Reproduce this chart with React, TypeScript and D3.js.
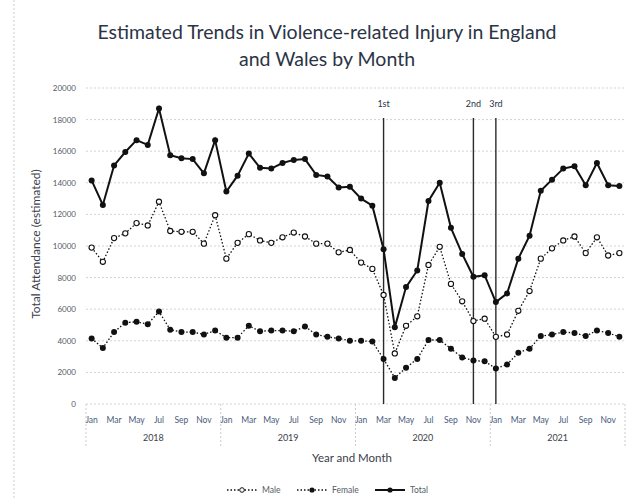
import { useEffect, useRef } from "react";
import * as d3 from "d3";

const years = ["2018", "2019", "2020", "2021"];
const monthNames = ["Jan", "Feb", "Mar", "Apr", "May", "Jun", "Jul", "Aug", "Sep", "Oct", "Nov", "Dec"];
const yTicks = [0, 2000, 4000, 6000, 8000, 10000, 12000, 14000, 16000, 18000, 20000];

const total = [
  14150, 12600, 15100, 15950, 16700, 16400, 18700, 15750, 15550, 15500, 14600, 16700,
  13450, 14450, 15850, 14950, 14900, 15250, 15450, 15500, 14500, 14400, 13700, 13750,
  13000, 12550, 9800, 4850, 7400, 8450, 12850, 14000, 11150, 9500, 8050, 8150,
  6450, 7000, 9200, 10650, 13500, 14200, 14900, 15050, 13850, 15250, 13850, 13800,
];
const male = [
  9900, 9000, 10500, 10800, 11450, 11300, 12800, 10950, 10900, 10900, 10150, 11950,
  9200, 10200, 10750, 10350, 10200, 10550, 10850, 10600, 10150, 10150, 9600, 9750,
  8950, 8550, 6900, 3200, 4950, 5550, 8800, 9950, 7600, 6500, 5250, 5400,
  4250, 4400, 5900, 7150, 9200, 9850, 10350, 10600, 9550, 10550, 9400, 9550,
];
const female = [
  4150, 3550, 4550, 5150, 5200, 5050, 5850, 4700, 4550, 4550, 4400, 4650,
  4200, 4200, 4950, 4600, 4650, 4650, 4600, 4900, 4400, 4250, 4150, 4000,
  4000, 3950, 2850, 1650, 2300, 2850, 4050, 4050, 3500, 2950, 2750, 2700,
  2250, 2500, 3250, 3500, 4300, 4400, 4550, 4500, 4300, 4650, 4500, 4250,
];
const lockdowns = [
  { label: "1st", month: "Mar 2020" },
  { label: "2nd", month: "Nov 2020" },
  { label: "3rd", month: "Jan 2021" },
];

const months = years.flatMap(y => monthNames.map(m => `${m} ${y}`));

const W = 637;
const H = 499;
const font = "Lato, 'Open Sans', sans-serif";

export default function App() {
  const ref = useRef<SVGSVGElement>(null);

  useEffect(() => {
    if (!ref.current) return;
    const svg = d3.select(ref.current);
    svg.selectAll("*").remove();

    const x = d3.scaleBand<string>().domain(months).range([86, 625]);
    const y = d3.scaleLinear().domain([0, 20000]).range([404, 88]);
    const cx = (m: string) => (x(m) as number) + x.bandwidth() / 2;

    // outer dotted frame
    svg.append("line")
      .attr("x1", 14).attr("x2", 14).attr("y1", 0).attr("y2", H)
      .attr("stroke", "#c8ccd4").attr("stroke-dasharray", "2,2");

    // title
    const title = svg.append("text")
      .attr("text-anchor", "middle")
      .attr("font-family", font)
      .attr("font-size", 19.5)
      .attr("fill", "#2b3445");
    title.append("tspan").attr("x", 327).attr("y", 39).text("Estimated Trends in Violence-related Injury in England");
    title.append("tspan").attr("x", 327).attr("y", 66).text("and Wales by Month");

    // gridlines
    svg.append("g").selectAll("line")
      .data(yTicks.slice(1))
      .join("line")
      .attr("x1", 86).attr("x2", 625)
      .attr("y1", d => y(d)).attr("y2", d => y(d))
      .attr("stroke", "#cfd3da").attr("stroke-dasharray", "2,2");

    // y ticks
    svg.append("g").selectAll("text")
      .data(yTicks)
      .join("text")
      .attr("x", 76).attr("y", d => y(d) + 3)
      .attr("text-anchor", "end")
      .attr("font-family", font)
      .attr("font-size", 8)
      .attr("fill", "#555b66")
      .text(d => d);

    svg.append("text")
      .attr("transform", `translate(40,${y(10000) - 2}) rotate(-90)`)
      .attr("text-anchor", "middle")
      .attr("font-family", font)
      .attr("font-size", 12)
      .attr("fill", "#3a404a")
      .text("Total Attendance (estimated)");

    // x axis
    svg.append("line")
      .attr("x1", 86).attr("x2", 625).attr("y1", 404).attr("y2", 404)
      .attr("stroke", "#cfd3da").attr("stroke-dasharray", "2,2");

    const bounds = years.map(yr => x(`Jan ${yr}`) as number).concat([625]);
    svg.append("g").selectAll("line")
      .data(bounds)
      .join("line")
      .attr("x1", d => d).attr("x2", d => d)
      .attr("y1", 404).attr("y2", 448)
      .attr("stroke", "#c8ccd4").attr("stroke-dasharray", "2,2");

    svg.append("g").selectAll("text")
      .data(months.filter((_, i) => i % 2 === 0))
      .join("text")
      .attr("x", d => cx(d)).attr("y", 423)
      .attr("text-anchor", "middle")
      .attr("font-family", font)
      .attr("font-size", 8.5)
      .attr("fill", "#4a5a7a")
      .text(d => d.split(" ")[0]);

    svg.append("g").selectAll("text")
      .data(years)
      .join("text")
      .attr("x", (d, i) => (bounds[i] + bounds[i + 1]) / 2).attr("y", 441)
      .attr("text-anchor", "middle")
      .attr("font-family", font)
      .attr("font-size", 9)
      .attr("fill", "#3a404a")
      .text(d => d);

    svg.append("text")
      .attr("x", 352).attr("y", 462)
      .attr("text-anchor", "middle")
      .attr("font-family", font)
      .attr("font-size", 11.5)
      .attr("fill", "#3a404a")
      .text("Year and Month");

    // lockdown lines
    const ld = svg.append("g");
    ld.selectAll("line")
      .data(lockdowns)
      .join("line")
      .attr("x1", d => cx(d.month)).attr("x2", d => cx(d.month))
      .attr("y1", 118).attr("y2", 404)
      .attr("stroke", "#2a2a2a").attr("stroke-width", 1.4);
    ld.selectAll("text")
      .data(lockdowns)
      .join("text")
      .attr("x", d => cx(d.month)).attr("y", 107)
      .attr("text-anchor", "middle")
      .attr("font-family", font)
      .attr("font-size", 9)
      .attr("fill", "#2b3445")
      .text(d => d.label);

    const line = d3.line<number>()
      .x((_, i) => cx(months[i]))
      .y(d => y(d));

    const series = [
      { name: "Male", values: male, width: 1.3, dash: "1.5,2", open: true },
      { name: "Female", values: female, width: 1.3, dash: "1.5,2", open: false },
      { name: "Total", values: total, width: 2, dash: null, open: false },
    ];

    series.forEach(s => {
      const g = svg.append("g");
      g.append("path")
        .attr("d", line(s.values))
        .attr("fill", "none")
        .attr("stroke", "#111")
        .attr("stroke-width", s.width)
        .attr("stroke-dasharray", s.dash);
      g.selectAll("circle")
        .data(s.values)
        .join("circle")
        .attr("cx", (_, i) => cx(months[i]))
        .attr("cy", d => y(d))
        .attr("r", s.open ? 2.6 : 3)
        .attr("fill", s.open ? "#fff" : "#111")
        .attr("stroke", "#111")
        .attr("stroke-width", s.open ? 1.1 : 0);
    });

    // legend
    const legendX = [227, 297, 375];
    series.forEach((s, i) => {
      const g = svg.append("g").attr("transform", `translate(${legendX[i]},490)`);
      g.append("line")
        .attr("x1", 0).attr("x2", 30).attr("y1", 0).attr("y2", 0)
        .attr("stroke", "#111")
        .attr("stroke-width", s.width)
        .attr("stroke-dasharray", s.dash);
      g.append("circle")
        .attr("cx", 15).attr("cy", 0).attr("r", s.open ? 2.3 : 2.6)
        .attr("fill", s.open ? "#fff" : "#111")
        .attr("stroke", "#111")
        .attr("stroke-width", s.open ? 1 : 0);
      g.append("text")
        .attr("x", 35).attr("y", 3)
        .attr("font-family", font)
        .attr("font-size", 8.5)
        .attr("fill", "#555b66")
        .text(s.name);
    });
  }, []);

  return (
    <svg
      ref={ref}
      width={W}
      height={H}
      style={{ position: "absolute", left: 0, top: 0, background: "#fff" }}
    />
  );
}
